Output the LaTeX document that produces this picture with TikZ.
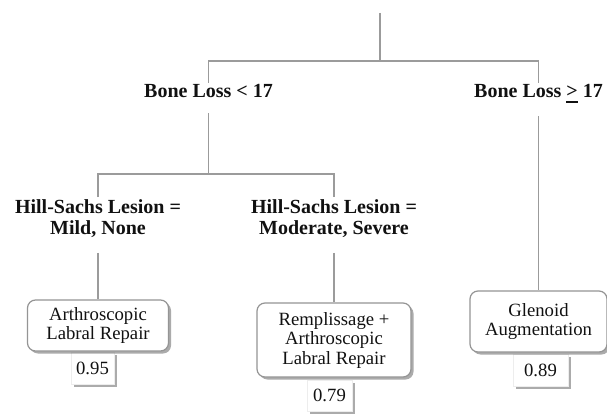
\documentclass[tikz,border=0pt]{standalone}
\usepackage{fontspec}
\setmainfont{Liberation Serif}
\usetikzlibrary{shadows}
\definecolor{linegray}{HTML}{9B9B9B}
\definecolor{boxgray}{HTML}{959595}
\definecolor{textcol}{HTML}{111111}
\begin{document}
\begin{tikzpicture}[x=1pt,y=-1pt,
  conn/.style={draw=linegray, line width=1.3pt},
  cond/.style={font=\fontsize{20}{21}\selectfont\bfseries, text=textcol, inner sep=2pt, align=center},
  leaf/.style={draw=boxgray, line width=1.2pt, rounded corners=8pt, fill=white, text=textcol,
    font=\fontsize{18.7}{19.5}\selectfont, align=center, inner sep=2pt,
    drop shadow={shadow xshift=2.5pt, shadow yshift=-2.5pt, opacity=0.55, fill=black!60}},
  val/.style={fill=white, draw=black!7, line width=0.4pt, text=textcol,
    font=\fontsize{18.7}{19.5}\selectfont, inner sep=0pt,
    drop shadow={shadow xshift=2.5pt, shadow yshift=-2.5pt, opacity=0.55, fill=black!60}}
]
\useasboundingbox[fill=white] (0,0) rectangle (607,414);

% condition nodes
\node[cond, anchor=base] (bl1) at (208.5,98) {Bone Loss < 17};
\node[cond, anchor=base, text depth=0pt] (bl2) at (538.5,98) {Bone Loss \makebox[0pt][l]{\rule[-5pt]{0.57em}{2pt}}> 17};
\node[cond, anchor=north] (hs1) at (98,197) {Hill-Sachs Lesion =\\Mild, None};
\node[cond, anchor=north] (hs2) at (334,197) {Hill-Sachs Lesion =\\Moderate, Severe};

% value boxes
\node[val, minimum width=43pt, minimum height=32pt] (v1) at (92.5,368) {0.95};
\node[val, minimum width=45pt, minimum height=31pt] (v2) at (329.5,395.5) {0.79};
\node[val, minimum width=55pt, minimum height=32pt] (v3) at (540.5,370) {0.89};

% leaf boxes
\node[leaf, minimum width=141pt, minimum height=51pt] (leaf1) at (98,325.5) {Arthroscopic\\Labral Repair};
\node[leaf, minimum width=154pt, minimum height=74pt] (leaf2) at (334,340) {Remplissage +\\Arthroscopic\\Labral Repair};
\node[leaf, minimum width=137pt, minimum height=61pt] (leaf3) at (538.5,321.5) {Glenoid\\Augmentation};

% connectors
\coordinate (top) at (380,13);
\coordinate (j1) at (380,61);
\coordinate (j2) at (208.5,174);
\draw[conn] (top) -- (j1);
\draw[conn] (bl1.north) |- (j1) -| (bl2.north);
\draw[conn] ([yshift=-13pt]bl1.south) -- (j2);
\draw[conn] (hs1.north) |- (j2) -| (hs2.north);
\draw[conn] ([yshift=-13.5pt]hs1.south) -- (leaf1.north);
\draw[conn] ([yshift=-13.5pt]hs2.south) -- (leaf2.north);
\draw[conn] ([yshift=-16pt]bl2.south) -- (leaf3.north);
\end{tikzpicture}
\end{document}
